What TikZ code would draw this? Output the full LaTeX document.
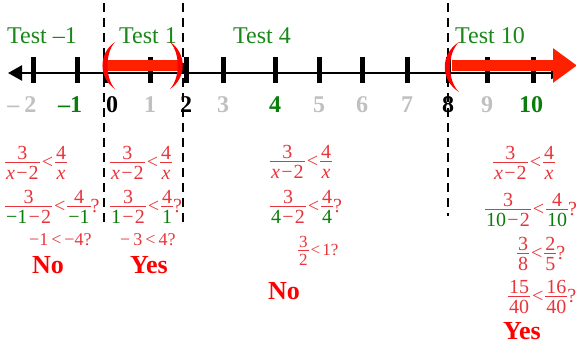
\documentclass[tikz,border=0pt]{standalone}
\usepackage{fontspec}
\setmainfont{Liberation Serif}
\usepackage{amsmath}
\usetikzlibrary{arrows.meta}
\definecolor{er}{RGB}{232,52,58}
\definecolor{tg}{RGB}{25,135,25}
\definecolor{dg}{RGB}{10,125,10}
\definecolor{lg}{RGB}{192,192,192}
\definecolor{barred}{RGB}{255,32,0}
\definecolor{yn}{RGB}{255,0,0}
\newcommand{\fr}[2]{\ensuremath{\vcenter{\offinterlineskip\halign{\hfil\kern1pt##\kern1pt\hfil\cr\vphantom{0}#1\cr\noalign{\kern3pt\hrule height0.8pt\kern3pt}\vphantom{0}#2\cr}}}}
\newcommand{\mx}{\textit{x}}
\newcommand{\mn}{\kern1.2pt−\kern1.2pt}
\newcommand{\lt}{\kern2pt<\kern2pt}
\newcommand{\gr}[1]{{\color{dg}#1}}
\tikzset{
  axisline/.style={line width=2.4pt, {Triangle[length=14pt,width=15pt]}-{Triangle[length=12pt,width=12pt]}},
  tickmark/.style={line width=5pt},
  dashline/.style={line width=2.4pt, dash pattern=on 9pt off 6pt},
  testlbl/.style={text=tg, font=\fontsize{24}{28}\selectfont, anchor=base, inner sep=0pt},
  numlbl/.style={font=\bfseries\fontsize{24}{28}\selectfont, anchor=base, inner sep=0pt},
  ex/.style={text=er, font=\fontsize{20}{24}\selectfont, anchor=base west, inner sep=0pt},
  exs/.style={text=er, font=\fontsize{18}{22}\selectfont, anchor=base west, inner sep=0pt},
  verdict/.style={text=yn, font=\bfseries\fontsize{26}{30}\selectfont, anchor=base, inner sep=0pt},
  parenfill/.style={fill=red},
}
\begin{document}
\begin{tikzpicture}[x=1pt,y=-1pt]
\useasboundingbox (0,0) rectangle (576,346);
% dashed boundaries
\coordinate (d1t) at (104,3); \coordinate (d1b) at (104,225);
\coordinate (d2t) at (183,3); \coordinate (d2b) at (183,222);
\coordinate (d3t) at (448,3); \coordinate (d3b) at (448,216);
\draw[dashline] (d1t) -- (d1b);
\draw[dashline] (d2t) -- (d2b);
\draw[dashline] (d3t) -- (d3b);
% number line
\coordinate (L) at (8,73); \coordinate (R) at (563,73);
\draw[axisline] (L) -- (R);
\foreach \x in {33,77,105,150,186,223,275,319,362,407,448,487,533}
  \draw[tickmark] (\x,57) -- (\x,83);
% number labels
\node[numlbl, text=lg] (n-2) at (22,112) {–\kern5pt2};
\node[numlbl, text=dg] (n-1) at (70,112) {–1};
\node[numlbl, text=black] (n0) at (112,112) {0};
\node[numlbl, text=lg] (n1) at (150,112) {1};
\node[numlbl, text=black] (n2) at (186,112) {2};
\node[numlbl, text=lg] (n3) at (223,112) {3};
\node[numlbl, text=dg] (n4) at (275,112) {4};
\node[numlbl, text=lg] (n5) at (319,112) {5};
\node[numlbl, text=lg] (n6) at (362,112) {6};
\node[numlbl, text=lg] (n7) at (407,112) {7};
\node[numlbl, text=black] (n8) at (448,112) {8};
\node[numlbl, text=lg] (n9) at (487,112) {9};
\node[numlbl, text=dg] (n10) at (531,112) {10};
% test labels
\node[testlbl] (t1) at (42,43) {Test –1};
\node[testlbl] (t2) at (148,43) {Test 1};
\node[testlbl] (t3) at (262,43) {Test 4};
\node[testlbl] (t4) at (490,43) {Test 10};
% solution interval and ray
\coordinate (b0) at (106,65.5); \coordinate (b2) at (181,65.5);
\draw[barred, line width=11pt] (b0) -- (b2);
\coordinate (r8) at (452,65.5); \coordinate (rend) at (577,65.5);
\draw[barred, line width=11pt, -{Triangle[length=24pt,width=33pt]}] (r8) -- (rend);
% parentheses
\fill[parenfill] (115,42) .. controls (98.3,53) and (98.3,78) .. (115,89)
   .. controls (105,78) and (105,53) .. (115,42) -- cycle;
\fill[parenfill] (170,42) .. controls (187,53) and (187,78) .. (170,89)
   .. controls (180.3,78) and (180.3,53) .. (170,42) -- cycle;
\fill[parenfill] (459,42) .. controls (440,54) and (440,80) .. (459,92)
   .. controls (447,80) and (447,54) .. (459,42) -- cycle;
% column 1
\node[ex] (c1a) at (5,168) {\fr{3}{\mx\mn 2}\lt\fr{4}{\mx}};
\node[ex] (c1b) at (5,212) {\fr{3}{\gr{−1}\mn 2}\lt\fr{4}{\gr{−1}}?};
\node[exs] (c1c) at (29,245) {−1\,<\,−4?};
\node[verdict] (c1d) at (48,273) {No};
% column 2
\node[ex] (c2a) at (110,168) {\fr{3}{\mx\mn 2}\lt\fr{4}{\mx}};
\node[ex] (c2b) at (110,212) {\fr{3}{\gr{1}\mn 2}\lt\fr{4}{\gr{1}}?};
\node[exs] (c2c) at (120,245) {−\,3\,<\,4?};
\node[verdict] (c2d) at (149,273) {Yes};
% column 3
\node[ex] (c3a) at (270,167) {\fr{3}{\mx\mn 2}\lt\fr{4}{\mx}};
\node[ex] (c3b) at (270,212) {\fr{3}{\gr{4}\mn 2}\lt\fr{4}{\gr{4}}?};
\node[exs, font=\fontsize{17}{20}\selectfont] (c3c) at (298,255) {\fr{3}{2}\lt 1?};
\node[verdict] (c3d) at (284,299) {No};
% column 4
\node[ex] (c4a) at (493,168) {\fr{3}{\mx\mn 2}\lt\fr{4}{\mx}};
\node[ex] (c4b) at (485,215) {\fr{3}{\gr{10}\mn 2}\lt\fr{4}{\gr{10}}?};
\node[ex] (c4c) at (517,259) {\fr{3}{8}\lt\fr{2}{5}?};
\node[ex] (c4d) at (508,302) {\fr{15}{40}\lt\fr{16}{40}?};
\node[verdict] (c4e) at (522,339) {Yes};
\end{tikzpicture}
\end{document}
